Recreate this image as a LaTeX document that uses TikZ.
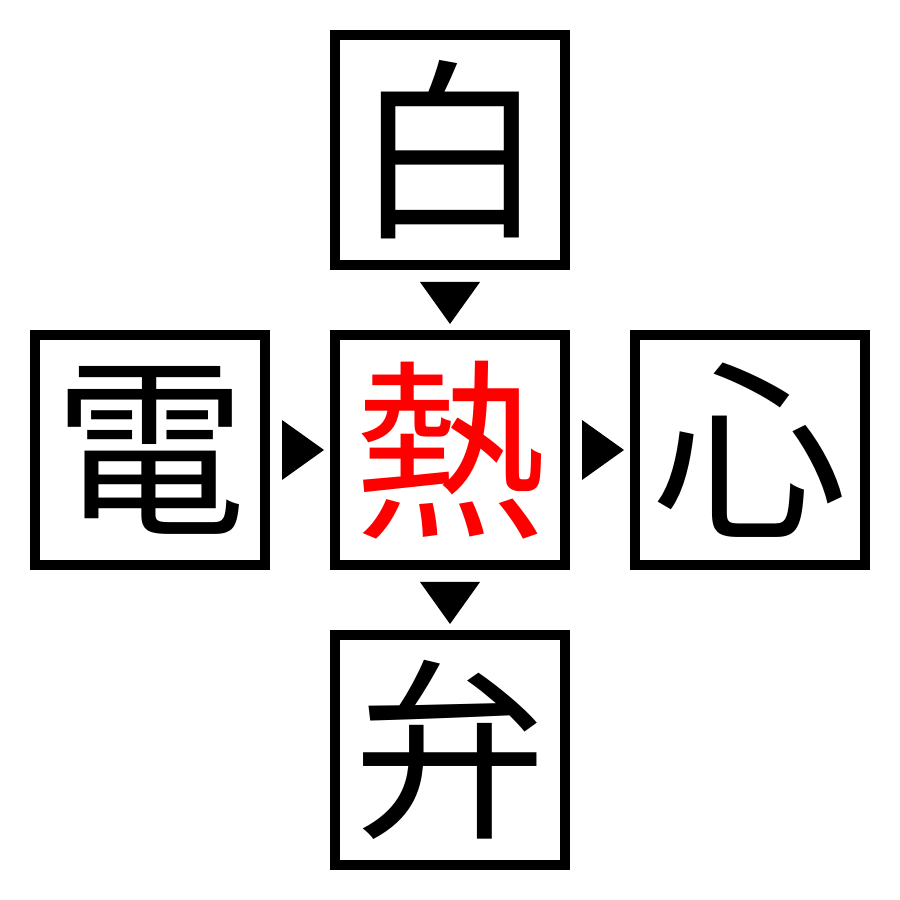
\documentclass[tikz,border=0pt]{standalone}
\usepackage{fontspec}
\newfontfamily\cjk{Noto Sans CJK JP}
\usetikzlibrary{calc}
\begin{document}
\begin{tikzpicture}
  \tikzstyle{kanji}=[draw,line width=1mm,minimum size=2.3cm,inner sep=0pt,
    font=\cjk\fontsize{55pt}{55pt}\selectfont]
  \tikzstyle{marker}=[fill=black]
  \useasboundingbox (0,0) rectangle (9,9);
  \node[kanji] (top)    at (4.5,7.5) {白};
  \node[kanji] (left)   at (1.5,4.5) {電};
  \node[kanji,text=red] (center) at (4.5,4.5) {熱};
  \node[kanji] (right)  at (7.5,4.5) {心};
  \node[kanji] (bottom) at (4.5,1.5) {弁};
  % markers
  \fill[marker] ($(top.south)+(-0.3,-0.12)$) -- ($(top.south)+(0.3,-0.12)$) -- ($(top.south)+(0,-0.54)$) -- cycle;
  \fill[marker] ($(center.south)+(-0.3,-0.12)$) -- ($(center.south)+(0.3,-0.12)$) -- ($(center.south)+(0,-0.54)$) -- cycle;
  \fill[marker] ($(left.east)+(0.12,0.3)$) -- ($(left.east)+(0.12,-0.3)$) -- ($(left.east)+(0.54,0)$) -- cycle;
  \fill[marker] ($(center.east)+(0.12,0.3)$) -- ($(center.east)+(0.12,-0.3)$) -- ($(center.east)+(0.54,0)$) -- cycle;
\end{tikzpicture}
\end{document}
